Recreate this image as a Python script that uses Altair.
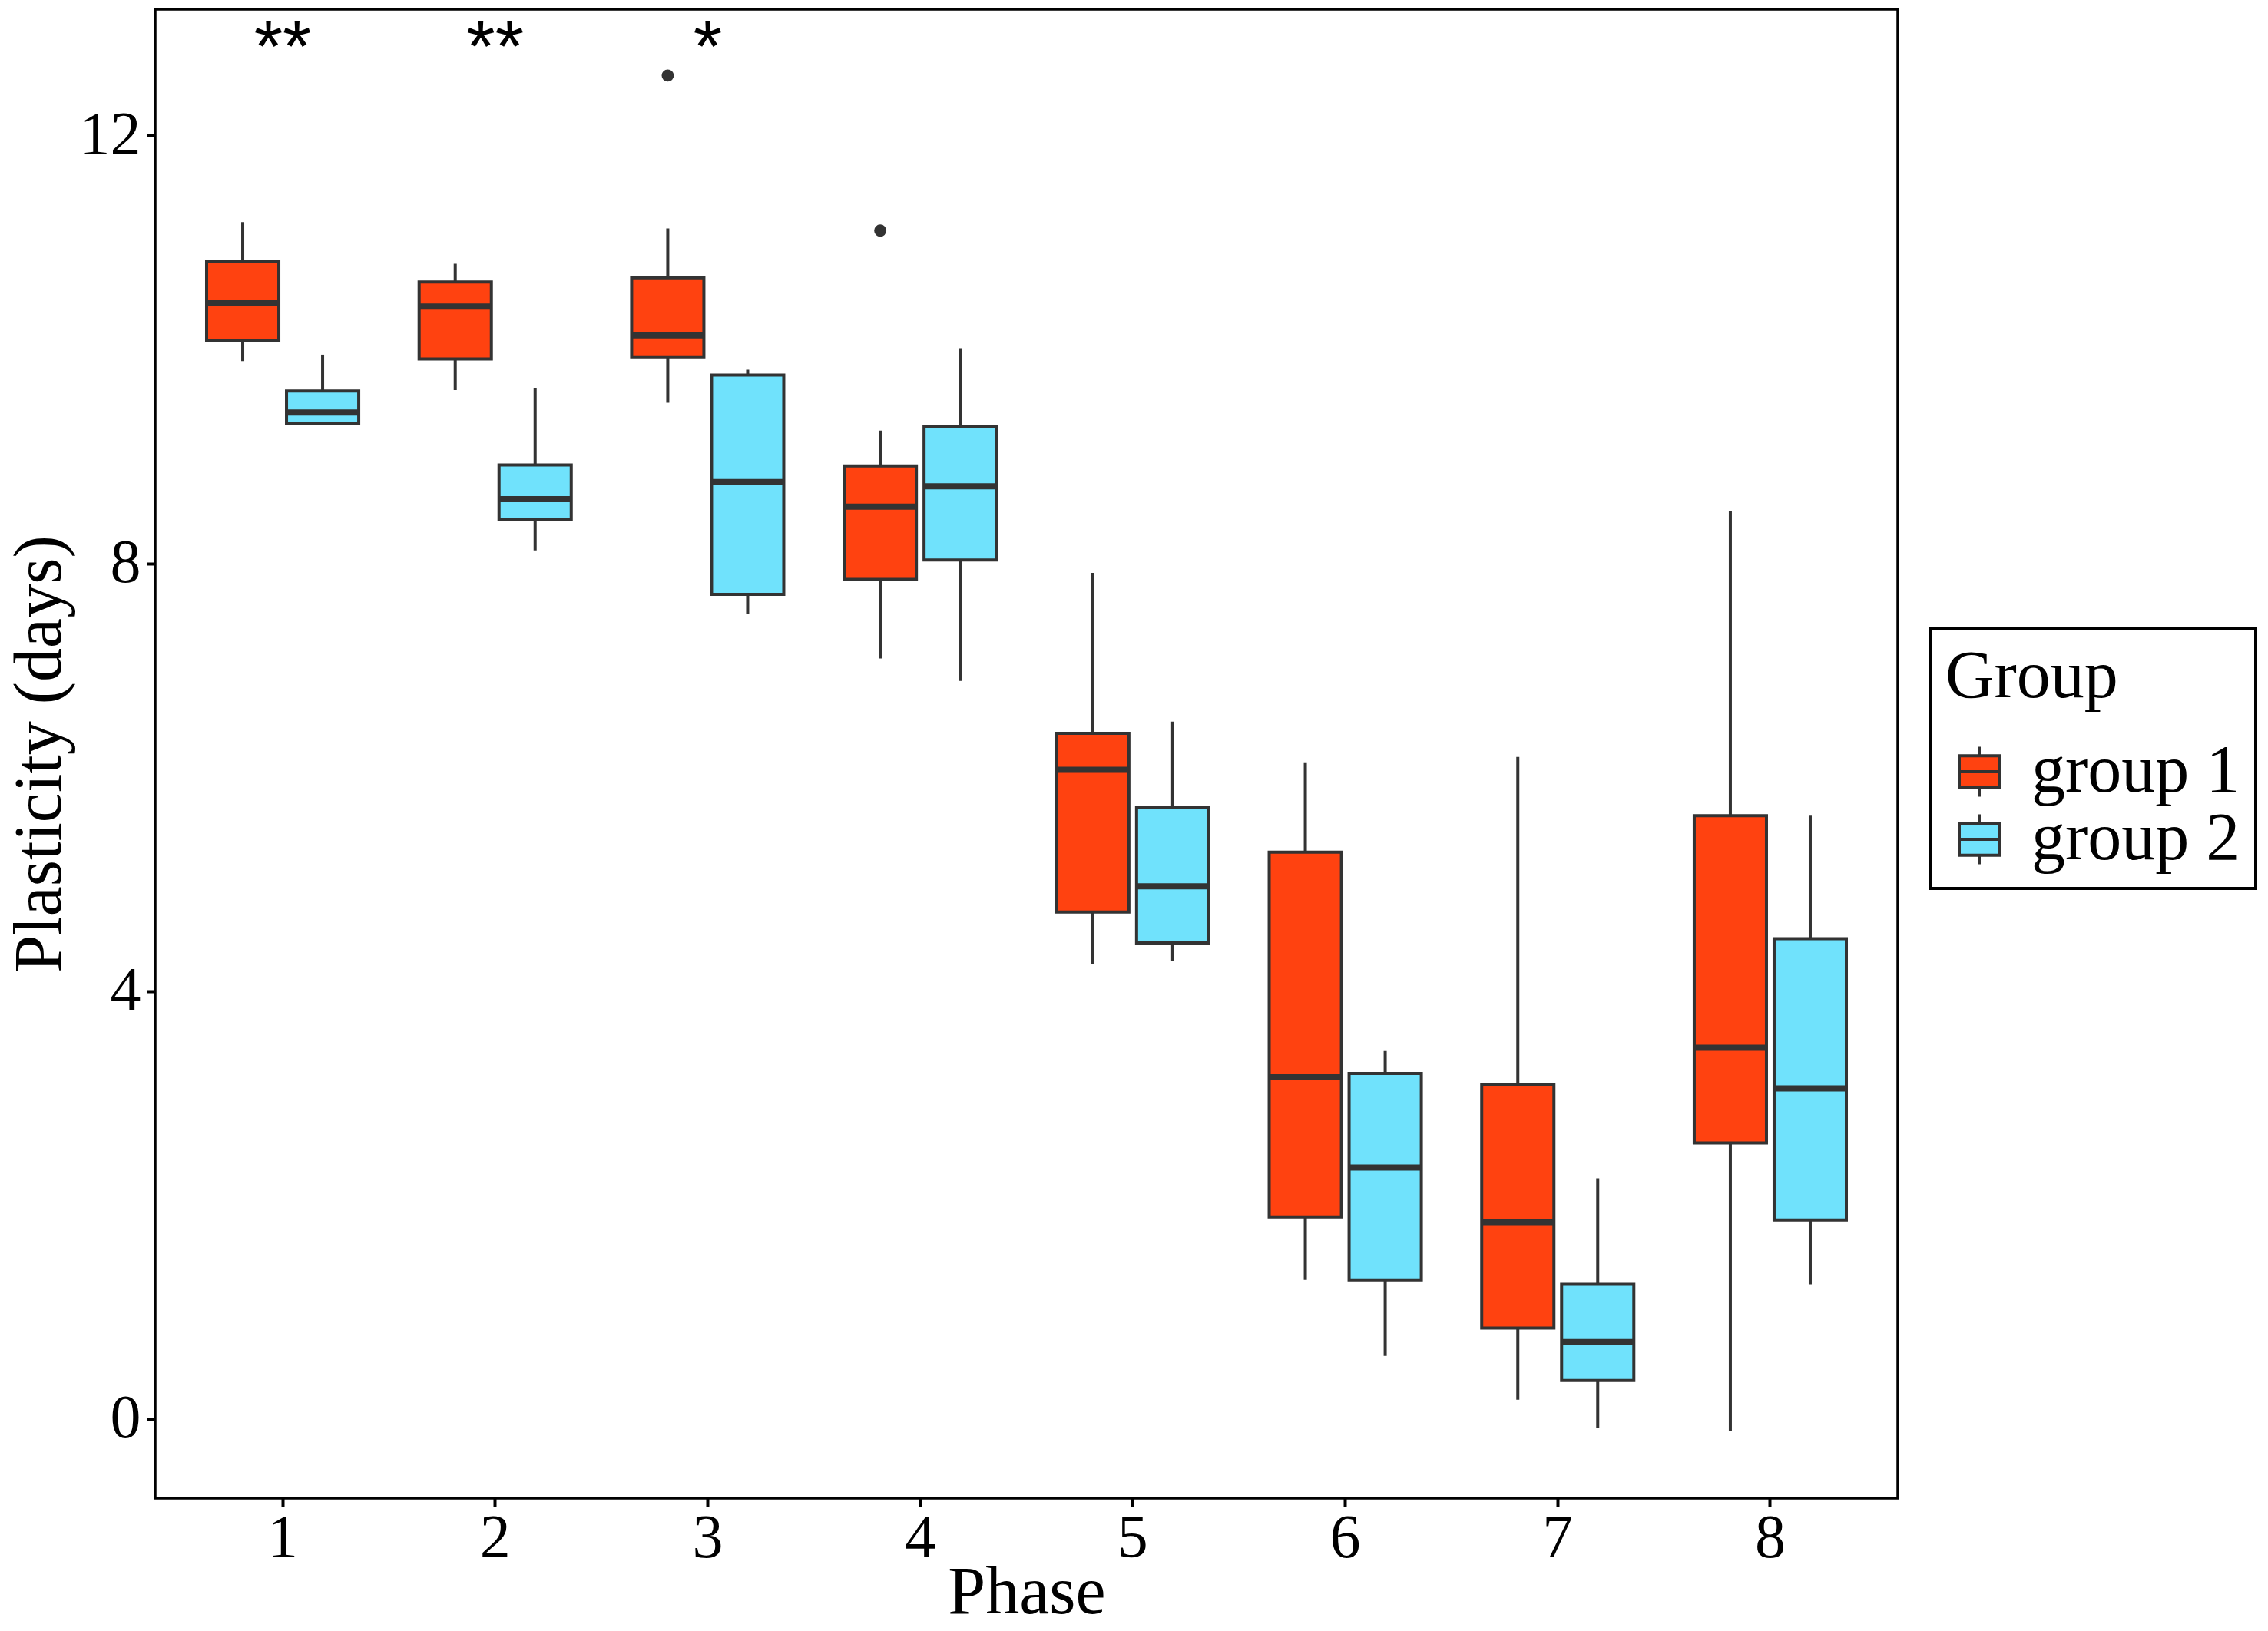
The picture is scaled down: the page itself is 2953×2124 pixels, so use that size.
import altair as alt
import pandas as pd

phases = [1, 2, 3, 4, 5, 6, 7, 8]
groups = ["group 1", "group 2"]

g1_low = [9.89, 9.62, 9.50, 7.11, 4.25, 1.30, 0.18, -0.11]
g1_q1 = [10.08, 9.91, 9.93, 7.85, 4.74, 1.89, 0.85, 2.58]
g1_med = [10.43, 10.40, 10.13, 8.53, 6.07, 3.20, 1.84, 3.47]
g1_q3 = [10.82, 10.63, 10.67, 8.91, 6.41, 5.30, 3.13, 5.64]
g1_high = [11.19, 10.80, 11.13, 9.24, 7.91, 6.14, 6.19, 8.49]

g2_low = [9.31, 8.12, 7.53, 6.90, 4.28, 0.59, -0.08, 1.26]
g2_q1 = [9.31, 8.41, 7.71, 8.03, 4.45, 1.30, 0.36, 1.86]
g2_med = [9.41, 8.60, 8.76, 8.72, 4.98, 2.35, 0.72, 3.09]
g2_q3 = [9.61, 8.92, 9.76, 9.28, 5.72, 3.23, 1.26, 4.49]
g2_high = [9.95, 9.64, 9.81, 10.01, 6.52, 3.44, 2.25, 5.64]

out_phase = [3, 4]
out_group = ["group 1", "group 1"]
out_value = [12.56, 11.11]

sig_phase = [1, 2, 3]
sig_label = ["**", "**", "*"]
sig_y = [12.6, 12.6, 12.6]

colors = ["#FF4210", "#70E2FC"]

rows = []
for i, p in enumerate(phases):
    rows.append(dict(phase=str(p), group=groups[0], low=g1_low[i], q1=g1_q1[i],
                     med=g1_med[i], q3=g1_q3[i], high=g1_high[i]))
    rows.append(dict(phase=str(p), group=groups[1], low=g2_low[i], q1=g2_q1[i],
                     med=g2_med[i], q3=g2_q3[i], high=g2_high[i]))
box = pd.DataFrame(rows)
outs = pd.DataFrame(dict(phase=[str(p) for p in out_phase], group=out_group, value=out_value))
sig = pd.DataFrame(dict(phase=[str(p) for p in sig_phase], label=sig_label, y=sig_y))

FONT = "Liberation Serif"
DARK = "#333333"

xscale = alt.Scale(domain=[str(p) for p in phases], paddingInner=0, paddingOuter=0.1)


def xoff():
    return alt.XOffset("group:N", scale=alt.Scale(domain=groups, paddingInner=0.096,
                                                  paddingOuter=0.378))


yscale = alt.Scale(domain=[-0.74, 13.18], nice=False, zero=False)

X = alt.X("phase:N", scale=xscale, title="Phase",
          axis=alt.Axis(labelAngle=0, labelFontSize=80, labelFont=FONT, labelColor="black",
                        titleFontSize=88, titleFont=FONT, titleFontWeight="normal", titleColor="black",
                        tickColor="black", tickWidth=4, tickSize=11, domain=False,
                        labelPadding=2, titlePadding=-13))

base = alt.Chart(box)

whisk = base.mark_rule(color=DARK, strokeWidth=4, opacity=1).encode(
    x=X, xOffset=xoff(),
    y=alt.Y("low:Q", scale=yscale, title="Plasticity (days)",
            axis=alt.Axis(values=[0, 4, 8, 12], format="d", grid=False, labelFontSize=80,
                          labelFont=FONT, labelColor="black", titleFontSize=88, titleFont=FONT,
                          titleFontWeight="normal", titleColor="black", tickColor="black",
                          tickWidth=4, tickSize=11, domain=False, labelPadding=8,
                          titlePadding=7)),
    y2="high:Q",
)

legend_path = ("M-0.8,-0.64 L0.8,-0.64 L0.8,0.64 L-0.8,0.64 Z "
               "M-0.8,0 L0.8,0 M0,-0.64 L0,-1 M0,0.64 L0,1")

boxes = base.mark_bar(stroke=DARK, strokeWidth=4, opacity=1).encode(
    x=X, xOffset=xoff(),
    y=alt.Y("q1:Q", scale=yscale),
    y2="q3:Q",
    color=alt.Color("group:N", scale=alt.Scale(domain=groups, range=colors),
                    legend=alt.Legend(title="Group", orient="none", legendX=2311, legendY=806,
                                      titleFontSize=88, titleFont=FONT, titleFontWeight="normal",
                                      titleColor="black", labelFontSize=88, labelFont=FONT,
                                      labelColor="black", symbolType=legend_path,
                                      symbolSize=4225, symbolStrokeColor=DARK,
                                      symbolStrokeWidth=4, padding=20, strokeColor="black",
                                      fillColor="white", labelOffset=24, labelLimit=0,
                                      titleLimit=0, rowPadding=-19, titlePadding=35)),
)

medians = base.mark_tick(color=DARK, size=94, thickness=8, opacity=1).encode(
    x=X, xOffset=xoff(),
    y=alt.Y("med:Q", scale=yscale),
)

points = alt.Chart(outs).mark_circle(color=DARK, size=254, opacity=1).encode(
    x=X, xOffset=xoff(),
    y=alt.Y("value:Q", scale=yscale),
)

stars = alt.Chart(sig).mark_text(font="Liberation Sans", fontSize=96, color="black",
                                 baseline="alphabetic", align="center").encode(
    x=X,
    y=alt.Y("y:Q", scale=yscale),
    text="label:N",
)

chart = alt.layer(whisk, boxes, medians, points, stars).properties(
    width=2269, height=1939,
    autosize=alt.AutoSizeParams(type="none"),
    padding={"left": 194, "top": 4, "right": 474, "bottom": 165},
    background="white",
).configure_view(stroke="black", strokeWidth=3.5).configure_legend(strokeWidth=4)

chart.save("out.html", embed_options={"renderer": "svg", "actions": False})
